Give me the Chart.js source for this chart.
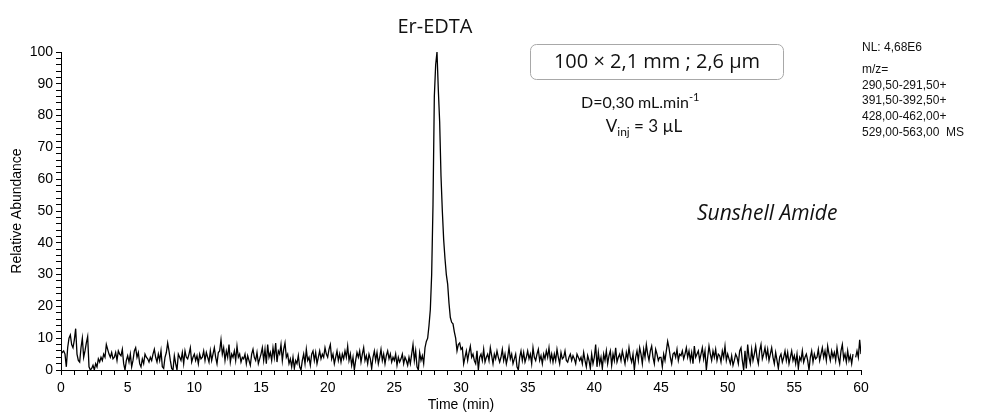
<!DOCTYPE html>
<html>
<head>
<meta charset="utf-8">
<script src="https://cdn.jsdelivr.net/npm/chart.js@4.4.1/dist/chart.umd.min.js"></script>
<style>
  body { margin: 0; background: #fff; }
  #wrap { width: 983px; height: 414px; position: relative; }
</style>
</head>
<body>
<div id="wrap"><canvas id="chrom" width="983" height="414"></canvas></div>
<script>
// sampling of the trace (min)
const startTime = 0;
const step = 0.1;
// relative abundance, one row per minute (t = m.0 ... m.9)
const abundance = [
  6, 5.5, 6, 5, 1, 7, 10, 11, 8, 7,
  9.5, 13, 5, 3, 2.5, 7, 10, 4, 6, 8.5,
  10.5, 1, 0, 0.5, 1.5, 0, 2, 1, 3.5, 2.5,
  4, 3, 5, 4, 8, 6.5, 5, 4, 5.5, 3.5,
  4, 5.5, 3, 6, 5, 4.5, 6.5, 2, 0, 3,
  4.5, 2.5, 5, 1, 3, 6, 7, 4, 5.5, 2,
  1, 3.5, 2, 5, 4, 3.5, 2.5, 4, 3, 5,
  6.5, 4, 2.5, 5, 3, 6, 1, 0.5, 4, 5.5,
  8.5, 6, 3, 0.5, 0, 4.5, 2, 0, 5, 4,
  3, 5.5, 2, 6, 4, 3.5, 5, 7, 2.5, 4,
  5, 3, 4.5, 2, 5, 3.5, 4, 6, 3, 5.5,
  4, 2.5, 6, 3, 5, 7, 4, 2, 5.5, 6,
  9.5, 5, 7, 3, 6, 4, 8, 2.5, 5, 4,
  6, 3, 7.5, 4, 5, 2.5, 4, 3.5, 5, 2,
  4.5, 3, 1.5, 5, 6.5, 4, 3, 5.5, 2, 3.5,
  5, 7, 3, 6.5, 2, 8, 4, 5.5, 3, 7,
  4, 8.5, 2.5, 6, 5, 8, 3, 6.5, 8.5, 4,
  5, 2, 3.5, 1, 4, 0.5, 3, 2, 4.5, 1,
  0, 3, 5, 2, 6.5, 3, 4, 1.5, 5, 6,
  3, 5.5, 2, 4, 6, 3.5, 5, 4, 7, 5,
  4, 6.5, 8, 3.5, 5, 2, 4, 6, 3, 5,
  2.5, 5, 3.5, 6, 4, 7.5, 3, 5, 1.5, 4,
  0, 3, 5.5, 4, 6, 2.5, 5, 7, 3, 4.5,
  2, 5, 3.5, 0.5, 4, 6, 3, 5.5, 2, 4,
  6.5, 3, 5, 2, 4.5, 6, 3.5, 5, 2.5, 4,
  3, 5, 1.5, 4, 2.5, 3.5, 5, 2, 4, 3,
  1.5, 4, 2, 5, 8, 3, 6, 1, 0, 5.5,
  3, 4.5, 2, 7, 9, 10, 14, 19, 30, 52,
  86, 96, 100, 88, 78, 61, 50, 41, 35, 30,
  27, 21, 16.5, 15, 14.5, 12, 10, 6, 8, 8.5,
  6.5, 7, 2, 4, 6, 3, 5.5, 7.5, 4, 5,
  3, 2, 6, 0, 4, 5, 3, 6.5, 2.5, 4,
  5, 3, 7, 4.5, 2, 5, 3.5, 6, 4, 2.5,
  4, 6.5, 3, 5, 2, 4, 7, 3.5, 5, 2,
  3.5, 5, 1, 0, 4, 6, 3, 5.5, 2.5, 4,
  6, 3.5, 5, 2, 7, 4, 3, 5, 6.5, 3,
  4.5, 2, 5, 3.5, 6, 4, 7, 3, 5, 2.5,
  5, 3, 6.5, 4, 2, 5.5, 3.5, 4, 6, 3,
  2.5, 4, 5, 3, 4.5, 3.5, 2, 5, 4, 3,
  4, 2, 5.5, 3, 1, 4.5, 3, 0.5, 5, 2,
  4, 8, 1, 5.5, 2, 4, 0.5, 5, 3, 6,
  2, 4.5, 6, 1.5, 5, 3, 7, 2.5, 4, 5,
  3, 6, 4, 2, 5.5, 3.5, 7, 4, 2.5, 5,
  0, 4, 6, 3, 7, 5, 2, 6.5, 4, 8,
  5, 3, 6, 7.5, 4, 2, 6.5, 5, 3, 4,
  4, 1, 5, 3, 6, 9, 7, 4, 2, 5,
  5.5, 4, 6.5, 3, 5, 4.5, 6, 3.5, 5, 7,
  4, 6, 3, 5.5, 2, 7.5, 4, 5, 6, 3,
  5, 7, 3.5, 6, 0, 4, 7.5, 5, 3, 6,
  4, 6.5, 3, 5, 4.5, 2.5, 6, 4, 7.5, 3,
  5, 3.5, 2, 4.5, 1.5, 3, 5, 4, 2, 6,
  7, 3, 0, 6, 0.5, 8, 4, 2, 6.5, 3,
  5, 7.5, 4, 2, 6, 8, 3.5, 5, 7, 4,
  6.5, 3, 5, 7, 4, 2, 5.5, 3, 0.5, 4,
  5, 2.5, 4, 6, 3, 5.5, 2, 4, 6, 3,
  4.5, 2, 5, 0.5, 4, 3, 6, 2.5, 4, 5,
  3, 0, 4, 6, 2.5, 5, 3.5, 4, 6.5, 3,
  5, 7, 4, 6, 3, 7.5, 5, 3, 6, 4,
  5.5, 3, 7, 4, 2, 6, 8, 3.5, 5, 2.5,
  6, 3, 4.5, 2, 5, null, 4, 6, 4, 9.5,
  5
];
const xTickLabels = [0, 5, 10, 15, 20, 25, 30, 35, 40, 45, 50, 55, 60];
const yTickLabels = [0, 10, 20, 30, 40, 50, 60, 70, 80, 90, 100];

const points = abundance.map((v, i) => ({ x: +(startTime + i * step).toFixed(2), y: v }));

const axisFont = { family: "'Liberation Sans', Arial, sans-serif", size: 14 };

const notes = {
  id: 'notes',
  afterDraw(chart) {
    const ctx = chart.ctx;
    ctx.save();
    ctx.fillStyle = '#111';
    ctx.textBaseline = 'middle';
    ctx.textAlign = 'center';
    ctx.font = "20px 'Open Sans', sans-serif";
    ctx.fillText('Er-EDTA', 435, 27);

    // column box
    ctx.strokeStyle = '#a8a8a8';
    ctx.lineWidth = 1;
    ctx.beginPath();
    ctx.roundRect(530.5, 44.5, 253, 35, 6);
    ctx.stroke();
    ctx.fillText('100 \u00d7 2,1 mm ; 2,6 \u00b5m', 657, 62);

    ctx.font = "16px Lato, 'Open Sans', sans-serif";
    ctx.textAlign = 'left';
    let t = 'D=0,30 mL.min';
    let w = ctx.measureText(t).width;
    let x0 = 640 - (w + 10) / 2;
    ctx.fillText(t, x0, 103);
    ctx.font = "11px Lato, 'Open Sans', sans-serif";
    ctx.fillText('-1', x0 + w, 97);

    ctx.font = "17px Lato, 'Open Sans', sans-serif";
    const wV = ctx.measureText('V').width;
    ctx.font = "12px Lato, 'Open Sans', sans-serif";
    const wSub = ctx.measureText('inj').width;
    ctx.font = "17px Lato, 'Open Sans', sans-serif";
    const rest = ' = 3 \u00b5L';
    const wR = ctx.measureText(rest).width;
    x0 = 644 - (wV + wSub + wR) / 2;
    ctx.fillText('V', x0, 127);
    ctx.fillText(rest, x0 + wV + wSub, 127);
    ctx.font = "12px Lato, 'Open Sans', sans-serif";
    ctx.fillText('inj', x0 + wV, 132);

    ctx.font = "italic 21px 'Open Sans', sans-serif";
    ctx.fillText('Sunshell Amide', 697, 214);

    ctx.font = "12px 'Liberation Sans', Arial, sans-serif";
    const lines = [
      ['NL: 4,68E6', 48],
      ['m/z=', 70],
      ['290,50-291,50+', 86],
      ['391,50-392,50+', 101],
      ['428,00-462,00+', 117],
      ['529,00-563,00  MS', 133]
    ];
    lines.forEach(([s, y]) => ctx.fillText(s, 862, y));
    ctx.restore();
  }
};

new Chart(document.getElementById('chrom'), {
  type: 'line',
  data: {
    datasets: [{
      data: points,
      borderColor: '#000',
      borderWidth: 1.3,
      pointRadius: 0,
      tension: 0,
      spanGaps: false
    }]
  },
  options: {
    responsive: false,
    animation: false,
    layout: { padding: { top: 52, right: 122, left: 0, bottom: 0 } },
    plugins: { legend: { display: false }, tooltip: { enabled: false } },
    scales: {
      x: {
        type: 'linear',
        min: 0,
        max: 60,
        afterFit(s) { s.height = 44; },
        border: { display: true, color: '#000', width: 1 },
        grid: { drawOnChartArea: false, color: '#000', tickLength: 5 },
        ticks: {
          stepSize: 1,
          autoSkip: false,
          maxRotation: 0,
          padding: 5,
          color: '#000',
          font: axisFont,
          callback: v => xTickLabels.includes(v) ? String(v) : ''
        },
        title: { display: true, text: 'Time (min)', color: '#000', font: { family: axisFont.family, size: 14 }, padding: { top: 0, bottom: 0 } }
      },
      y: {
        min: 0,
        max: 100,
        afterFit(s) { s.width = 61; },
        border: { display: true, color: '#000', width: 1 },
        grid: { drawOnChartArea: false, color: '#000', tickLength: 5 },
        ticks: {
          stepSize: 2,
          autoSkip: false,
          padding: 3,
          color: '#000',
          font: axisFont,
          callback: v => yTickLabels.includes(v) ? String(v) : ''
        },
        title: { display: true, text: 'Relative Abundance', color: '#000', font: { family: axisFont.family, size: 14 }, padding: { top: 9, bottom: 0 } }
      }
    }
  },
  plugins: [notes]
});
</script>
</body>
</html>
